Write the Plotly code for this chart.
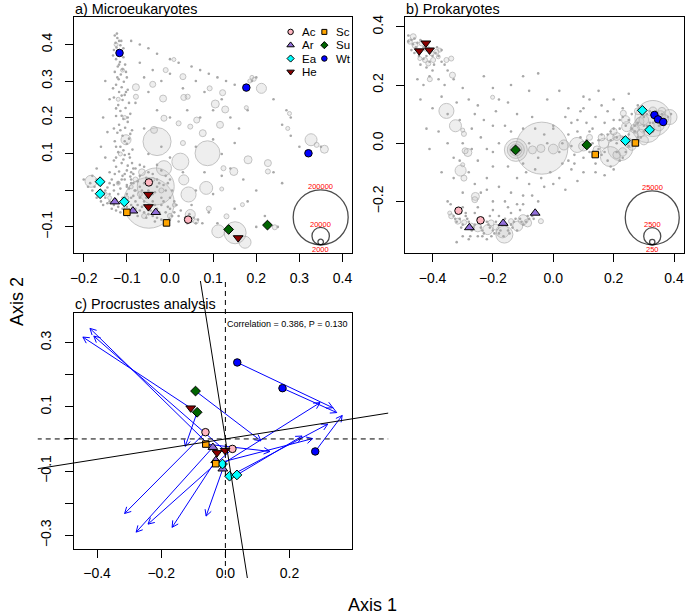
import math
import plotly.graph_objects as go

W, H = 685, 616
FONT = "Liberation Sans, Arial, Helvetica, sans-serif"

# ---------------- data ----------------
group_names = ["Ac", "Ar", "Ea", "He", "Sc", "Su", "Wt"]
group_fill = ["#FFB6C1", "#9370DB", "#00FFFF", "#8B0000", "#FFA500", "#006400", "#0000FF"]
group_symbol = ["circle", "triangle-up", "diamond", "triangle-down", "square", "diamond", "circle"]

sample_group = ["Ac", "Ac", "Ar", "Ar", "Ar", "Ea", "Ea", "Ea", "He", "He", "He",
                "Sc", "Sc", "Su", "Su", "Wt", "Wt", "Wt"]

# a) microeukaryote sample scores
euk_x = [-0.049, 0.042, -0.128, -0.086, -0.033, -0.162, -0.162, -0.106, -0.050, -0.050, 0.158,
         -0.100, -0.008, 0.136, 0.226, -0.117, 0.177, 0.321]
euk_y = [0.022, -0.080, -0.031, -0.056, -0.060, 0.024, -0.009, -0.031, -0.011, -0.045, -0.130,
         -0.060, -0.089, -0.107, -0.095, 0.377, 0.282, 0.102]

# b) prokaryote sample scores (also the Procrustes target)
pro_x = [-0.314, -0.241, -0.278, -0.166, -0.060, 0.295, 0.319, 0.239, -0.444, -0.422, -0.410,
         0.139, 0.272, -0.125, 0.111, 0.335, 0.347, 0.364]
pro_y = [-0.232, -0.265, -0.290, -0.275, -0.240, 0.113, 0.046, 0.009, 0.317, 0.344, 0.320,
         -0.039, 0.001, -0.023, -0.006, 0.097, 0.082, 0.073]

# c) rotated microeukaryote scores
rot_x = [-0.062, 0.022, -0.039, -0.030, -0.008, -0.009, 0.013, 0.036, -0.108, -0.026, -0.001,
         -0.061, -0.030, -0.088, -0.093, 0.037, 0.178, 0.280]
rot_y = [0.021, -0.031, -0.026, -0.067, -0.093, -0.078, -0.116, -0.112, 0.096, -0.043, -0.036,
         -0.016, -0.077, 0.083, 0.149, 0.238, 0.158, -0.039]

procrustes_r = 0.386
procrustes_p = 0.130
rotation_deg = 9.0

euk_key_counts = [200000, 20000, 2000]
pro_key_counts = [25000, 2500, 250]

# OTU abundance bubbles (x, y, reads)
euk_bubbles = [
    (-0.049, -0.034, 170000), (-0.033, 0.011, 90000), (-0.030, 0.134, 52000), (0.087, 0.102, 41000),
    (0.024, 0.079, 19000), (-0.014, 0.061, 15000), (0.043, -0.011, 15000), (0.032, 0.029, 6600),
    (0.084, 0.007, 11000), (-0.183, 0.025, 9500), (0.047, -0.066, 6600), (0.151, -0.116, 32000),
    (0.112, -0.112, 11000), (0.174, -0.142, 9500), (0.131, -0.071, 1650), (0.243, -0.101, 1650),
    (0.327, 0.139, 9500), (0.358, 0.113, 4200), (0.340, 0.125, 1650), (0.181, 0.084, 4200),
    (0.227, 0.075, 3200), (0.227, 0.052, 1650), (0.148, 0.052, 4200), (0.124, 0.061, 1650),
    (0.212, 0.280, 6600), (0.190, 0.310, 1060), (0.195, 0.305, 1060), (0.185, 0.300, 1060),
    (0.122, 0.268, 2400), (0.128, 0.222, 3200), (0.105, 0.237, 4200), (0.177, 0.227, 1060),
    (0.116, 0.180, 3200), (0.277, 0.211, 1060), (0.273, 0.170, 1060), (-0.102, 0.139, 6600),
    (-0.079, 0.283, 3200), (-0.040, 0.291, 2400), (-0.016, 0.252, 3200), (0.032, 0.255, 2400),
    (0.030, 0.312, 2400), (-0.010, 0.330, 1650), (0.009, 0.359, 1060), (-0.079, 0.257, 1650),
    (0.041, 0.257, 1650), (0.092, 0.280, 1650), (-0.014, 0.198, 2400), (0.020, 0.184, 1650),
    (0.047, 0.175, 1650), (0.062, 0.193, 2400), (-0.037, 0.166, 3200), (0.076, 0.157, 3200),
    (0.030, 0.130, 1650), (-0.065, 0.050, 3000), (0.120, 0.004, 1060), (0.168, -0.039, 1060),
    (0.090, -0.050, 1650), (-0.120, 0.020, 1060), (-0.100, -0.020, 1060), (-0.080, 0.030, 1650),
    (-0.140, -0.020, 1060), (-0.060, -0.070, 1650), (0.000, -0.070, 1650), (-0.020, 0.000, 1650),
    (-0.125, 0.400, 1060), (-0.110, 0.330, 1060), (-0.120, 0.250, 1060), (-0.105, 0.200, 1060),
    (-0.115, 0.100, 1060), (-0.090, 0.010, 1060), (-0.070, -0.010, 1650), (-0.040, 0.030, 1060),
    (-0.150, -0.010, 1060), (0.010, -0.040, 1060), (0.060, -0.085, 1650),
]

euk_dots = [
    (-0.128, 0.425), (-0.122, 0.418), (-0.118, 0.410), (-0.126, 0.405), (-0.115, 0.398), (-0.124, 0.392),
    (-0.130, 0.385), (-0.112, 0.380), (-0.120, 0.370), (-0.108, 0.365), (-0.125, 0.360), (-0.116, 0.352),
    (-0.104, 0.345), (-0.121, 0.340), (-0.110, 0.332), (-0.128, 0.325), (-0.114, 0.318), (-0.100, 0.310),
    (-0.119, 0.305), (-0.107, 0.298), (-0.125, 0.290), (-0.112, 0.283), (-0.098, 0.276), (-0.118, 0.270),
    (-0.105, 0.262), (-0.130, 0.255), (-0.110, 0.248), (-0.095, 0.240), (-0.120, 0.234), (-0.103, 0.226),
    (-0.115, 0.218), (-0.092, 0.210), (-0.125, 0.204), (-0.108, 0.196), (-0.098, 0.188), (-0.118, 0.180),
    (-0.104, 0.172), (-0.088, 0.165), (-0.122, 0.158), (-0.110, 0.150), (-0.095, 0.142), (-0.128, 0.135),
    (-0.100, 0.128), (-0.115, 0.120), (-0.087, 0.112), (-0.120, 0.105), (-0.105, 0.097), (-0.093, 0.090),
    (-0.130, 0.082), (-0.112, 0.075), (-0.098, 0.068), (-0.085, 0.060), (-0.118, 0.052), (-0.105, 0.045),
    (-0.092, 0.038), (-0.135, 0.030), (-0.120, 0.022), (-0.100, 0.015), (-0.145, 0.008), (-0.082, 0.000),
    (-0.123, 0.430), (-0.113, 0.410), (-0.108, 0.390), (-0.132, 0.370), (-0.118, 0.345), (-0.102, 0.325),
    (-0.122, 0.310), (-0.132, 0.280), (-0.102, 0.270), (-0.112, 0.260), (-0.125, 0.225), (-0.112, 0.205),
    (-0.098, 0.200), (-0.130, 0.170), (-0.115, 0.165), (-0.092, 0.155), (-0.105, 0.135), (-0.125, 0.120),
    (-0.108, 0.110), (-0.095, 0.100), (-0.125, 0.090), (-0.108, 0.085), (-0.088, 0.075), (-0.125, 0.065),
    (-0.100, 0.055), (-0.128, 0.045), (-0.085, 0.045), (-0.112, 0.030), (-0.090, 0.020),
    (-0.150, 0.300), (-0.140, 0.250), (-0.155, 0.200), (-0.145, 0.160), (-0.160, 0.120), (-0.150, 0.090),
    (-0.170, 0.060), (-0.140, 0.050), (-0.180, 0.040), (-0.160, 0.000),
    (-0.090, 0.410), (-0.070, 0.400), (-0.050, 0.390), (-0.030, 0.375), (0.000, 0.360), (0.020, 0.350),
    (0.050, 0.340), (0.070, 0.330), (0.090, 0.320), (0.110, 0.310), (0.130, 0.300), (0.150, 0.290),
    (0.190, 0.300), (0.200, 0.310), (0.240, 0.250), (0.270, 0.220), (0.280, 0.200), (0.280, 0.150),
    (0.260, 0.180), (-0.070, 0.350), (-0.040, 0.330), (-0.060, 0.310), (-0.020, 0.300), (0.000, 0.320),
    (0.030, 0.280), (0.060, 0.300), (0.080, 0.270), (-0.050, 0.270), (-0.080, 0.240), (-0.030, 0.220),
    (0.000, 0.200), (0.040, 0.220), (0.070, 0.200), (0.100, 0.220), (0.120, 0.250), (0.140, 0.200),
    (0.160, 0.170), (0.180, 0.220), (0.150, 0.130), (0.120, 0.100), (0.100, 0.140), (0.060, 0.120),
    (0.030, 0.050), (0.080, 0.050), (0.120, 0.040), (0.140, 0.060), (0.170, 0.030), (0.200, 0.000),
    (0.180, -0.030), (0.150, -0.050), (0.100, -0.010), (0.060, 0.000), (0.050, -0.040), (0.220, -0.070),
    (0.250, -0.100), (0.200, -0.100), (0.110, -0.090), (0.090, -0.060), (0.300, 0.120), (0.350, 0.120),
    (0.240, 0.050), (0.260, 0.020), (-0.060, 0.170), (-0.020, 0.120), (0.000, 0.090), (-0.070, 0.070),
    (-0.050, 0.100), (-0.030, 0.070),
    (-0.200, 0.030), (-0.190, 0.010), (-0.180, 0.000), (-0.170, -0.020), (-0.160, -0.030), (-0.150, -0.020),
    (-0.140, -0.030), (-0.130, -0.040), (-0.120, -0.045), (-0.110, -0.050), (-0.100, -0.045), (-0.090, -0.040),
    (-0.080, -0.050), (-0.070, -0.055), (-0.060, -0.060), (-0.050, -0.065), (-0.040, -0.070), (-0.030, -0.075),
    (-0.020, -0.080), (-0.010, -0.085), (0.000, -0.080), (0.020, -0.085), (0.040, -0.090), (0.050, -0.085),
    (0.060, -0.090), (-0.140, -0.010), (-0.130, 0.000), (-0.120, -0.010), (-0.110, -0.020), (-0.100, -0.010),
    (-0.090, -0.020), (-0.080, -0.030), (-0.070, -0.020), (-0.060, -0.030), (-0.050, -0.040), (-0.040, -0.030),
    (-0.030, -0.050), (-0.020, -0.040), (-0.010, -0.060), (0.000, -0.050), (0.010, -0.060), (0.020, -0.070),
    (-0.120, 0.020), (-0.100, 0.010), (-0.090, 0.030), (-0.080, 0.000), (-0.070, 0.010), (-0.060, 0.020),
    (-0.050, 0.000), (-0.040, -0.010), (-0.030, 0.010), (-0.020, -0.020), (-0.010, 0.000), (0.000, -0.020),
    (-0.090, 0.050), (-0.070, 0.040), (-0.050, 0.050), (-0.030, 0.030), (-0.010, 0.040), (-0.110, 0.040),
    (-0.155, -0.040), (-0.135, -0.050), (-0.115, -0.060), (-0.095, -0.065), (-0.075, -0.070), (-0.055, -0.075),
    (-0.035, -0.085),
    (-0.165, -0.010), (-0.175, 0.010), (-0.185, 0.020), (-0.150, 0.000), (-0.145, -0.035), (-0.125, -0.025),
    (-0.125, -0.055), (-0.105, -0.035), (-0.095, -0.055), (-0.085, -0.015), (-0.075, -0.040), (-0.065, -0.045),
    (-0.055, -0.020), (-0.045, -0.055), (-0.035, -0.040), (-0.025, -0.060), (-0.015, -0.030), (-0.005, -0.045),
    (0.005, -0.070), (0.015, -0.040), (0.025, -0.055), (0.035, -0.075), (0.045, -0.065), (0.055, -0.075),
    (0.065, -0.080), (0.075, -0.090), (-0.095, 0.005), (-0.085, 0.020), (-0.075, 0.025), (-0.065, 0.000),
    (-0.055, 0.035), (-0.045, 0.015), (-0.035, -0.005), (-0.025, 0.020), (-0.015, 0.015), (-0.005, 0.020),
    (0.005, 0.000), (0.010, -0.030), (-0.105, 0.030), (-0.115, 0.005), (-0.130, 0.015), (-0.080, 0.060),
    (-0.060, 0.065), (-0.040, 0.045), (-0.020, 0.055), (0.000, 0.030), (-0.140, 0.020), (-0.160, 0.015),
    (-0.170, 0.030),
]

pro_bubbles = [
    (-0.038, -0.017, 23200), (-0.124, -0.023, 4500), (-0.124, -0.023, 2480), (-0.124, -0.023, 1235),
    (-0.124, -0.023, 549), (-0.069, -0.023, 549), (-0.041, -0.018, 549), (0.000, -0.020, 800),
    (0.035, -0.006, 857), (0.079, -0.006, 1930), (0.100, -0.010, 800),
    (-0.354, 0.111, 1930), (-0.324, 0.060, 1235), (-0.296, 0.032, 214), (-0.300, 0.045, 137),
    (-0.283, -0.032, 549), (-0.292, -0.026, 309), (-0.307, -0.094, 1040), (-0.296, -0.120, 309),
    (-0.300, -0.074, 137), (-0.258, -0.183, 549), (-0.260, -0.194, 309), (-0.201, 0.158, 137),
    (-0.464, 0.366, 309), (-0.475, 0.349, 214), (-0.458, 0.337, 309), (-0.436, 0.343, 214),
    (-0.420, 0.326, 309), (-0.403, 0.309, 214), (-0.387, 0.314, 214), (-0.376, 0.320, 137),
    (-0.354, 0.286, 214), (-0.338, 0.291, 214), (-0.414, 0.274, 214), (-0.425, 0.286, 214),
    (-0.442, 0.291, 137), (-0.398, 0.286, 214), (-0.381, 0.297, 137), (-0.334, 0.234, 309),
    (-0.409, 0.220, 214),
    (-0.338, -0.251, 214), (-0.316, -0.268, 309), (-0.272, -0.285, 309), (-0.217, -0.297, 857),
    (-0.168, -0.303, 1450), (-0.118, -0.285, 857), (-0.085, -0.274, 549), (-0.041, -0.268, 214),
    (-0.250, -0.291, 549), (-0.206, -0.274, 309), (-0.140, -0.268, 214), (-0.162, -0.314, 2480),
    (-0.343, -0.240, 137), (-0.295, -0.272, 214), (-0.190, -0.288, 309), (-0.100, -0.263, 857),
    (0.330, 0.085, 11100), (0.310, 0.050, 6700), (0.385, 0.090, 1930), (0.222, -0.017, 5360),
    (0.189, -0.046, 3430), (0.243, 0.057, 857), (0.265, 0.028, 857), (0.210, 0.023, 549),
    (0.167, 0.000, 857), (0.145, -0.023, 549), (0.232, 0.103, 309), (0.287, 0.075, 549),
    (0.300, 0.010, 700), (0.350, 0.060, 900), (0.260, -0.010, 600), (0.200, 0.040, 400),
    (0.120, 0.020, 300), (0.280, 0.110, 400), (0.360, 0.110, 500),
    (0.240, 0.080, 600), (0.270, 0.050, 700), (0.290, 0.035, 500), (0.330, 0.110, 600),
    (0.210, -0.040, 500), (0.160, 0.020, 400), (0.190, 0.020, 500), (0.300, 0.080, 800),
    (0.250, 0.000, 700), (0.230, -0.030, 600), (0.355, 0.095, 800), (0.370, 0.085, 500),
]

pro_dots = [
    (-0.480, 0.370), (-0.470, 0.355), (-0.460, 0.360), (-0.465, 0.340), (-0.455, 0.330), (-0.450, 0.345),
    (-0.440, 0.355), (-0.430, 0.330), (-0.470, 0.320), (-0.445, 0.300), (-0.430, 0.290), (-0.420, 0.300),
    (-0.410, 0.280), (-0.400, 0.300), (-0.390, 0.310), (-0.380, 0.300), (-0.395, 0.270), (-0.370, 0.280),
    (-0.360, 0.270), (-0.350, 0.250), (-0.420, 0.260), (-0.440, 0.270), (-0.400, 0.250), (-0.460, 0.310),
    (-0.480, 0.350), (-0.385, 0.330), (-0.370, 0.320),
    (-0.450, 0.220), (-0.430, 0.200), (-0.410, 0.230), (-0.380, 0.220), (-0.360, 0.200), (-0.330, 0.220),
    (-0.300, 0.190), (-0.440, 0.150), (-0.400, 0.120), (-0.370, 0.160), (-0.320, 0.140), (-0.280, 0.150),
    (-0.250, 0.130), (-0.420, 0.050), (-0.380, 0.040), (-0.350, 0.000), (-0.330, -0.050), (-0.300, 0.000),
    (-0.270, 0.050), (-0.240, 0.020), (-0.220, -0.020), (-0.200, 0.060), (-0.180, 0.000), (-0.410, -0.020),
    (-0.370, -0.100), (-0.330, -0.120), (-0.280, -0.100), (-0.250, -0.060), (-0.220, -0.120), (-0.200, -0.080),
    (-0.180, -0.150), (-0.160, -0.200), (-0.200, -0.200), (-0.240, -0.170), (-0.300, -0.170), (-0.350, -0.200),
    (-0.140, -0.170), (-0.120, -0.120), (-0.100, -0.180), (-0.080, -0.140), (-0.050, -0.200), (-0.030, -0.150),
    (-0.010, -0.100), (0.020, -0.120), (0.040, -0.160), (0.060, -0.090), (0.080, -0.130), (-0.150, -0.080),
    (-0.100, -0.070), (-0.060, -0.090),
    (-0.350, 0.100), (-0.310, 0.080), (-0.260, 0.100), (-0.230, 0.080), (-0.190, 0.110), (-0.140, 0.040),
    (-0.100, 0.050), (-0.090, -0.100), (-0.040, -0.120), (0.000, -0.140), (0.030, -0.070), (-0.200, -0.030),
    (-0.270, -0.020), (-0.310, -0.060), (-0.260, -0.140), (-0.220, -0.160), (-0.120, -0.210), (-0.070, -0.180),
    (0.100, 0.120), (0.120, 0.150),
    (-0.230, 0.230), (-0.200, 0.190), (-0.150, 0.140), (-0.100, 0.230), (-0.080, 0.180), (-0.050, 0.240),
    (-0.120, 0.100), (-0.070, 0.090), (-0.020, 0.150), (0.020, 0.180), (0.050, 0.120), (0.100, 0.160),
    (0.150, 0.180), (0.200, 0.150), (0.250, 0.170), (0.080, 0.080), (-0.180, 0.150), (-0.160, 0.060),
    (0.000, 0.060), (-0.140, 0.200), (-0.060, 0.050),
    (0.000, 0.050), (0.030, 0.000), (0.050, 0.030), (0.070, -0.040), (0.090, 0.020), (0.100, -0.050),
    (0.120, 0.040), (0.130, 0.000), (0.150, -0.020), (0.160, 0.030), (0.170, 0.070), (0.180, -0.060),
    (0.190, 0.010), (0.200, 0.050), (0.210, -0.030), (0.220, 0.080), (0.230, 0.020), (0.240, 0.060),
    (0.250, -0.010), (0.260, 0.100), (0.270, 0.040), (0.280, 0.070), (0.290, 0.020), (0.300, 0.090),
    (0.310, 0.060), (0.320, 0.110), (0.330, 0.040), (0.340, 0.080), (0.350, 0.060), (0.360, 0.100),
    (0.370, 0.080), (0.380, 0.090), (0.140, 0.090), (0.110, 0.070), (0.060, 0.070), (0.180, 0.110),
    (0.230, 0.120), (0.280, 0.130), (0.100, -0.100), (0.140, -0.070), (0.050, -0.060), (0.020, -0.030),
    (-0.020, 0.000), (-0.050, -0.050), (-0.080, 0.000), (-0.030, 0.030), (0.120, -0.030), (0.200, -0.090),
    (0.170, -0.110), (0.250, 0.030), (0.270, 0.010), (0.300, 0.040), (0.320, 0.070), (0.210, 0.020),
    (0.180, 0.030), (0.160, -0.040), (0.230, -0.050), (0.290, 0.100),
    (0.150, 0.010), (0.170, -0.030), (0.190, 0.040), (0.210, 0.000), (0.220, 0.050), (0.240, 0.020),
    (0.250, 0.080), (0.270, 0.060), (0.280, 0.020), (0.300, 0.060), (0.310, 0.100), (0.330, 0.070),
    (0.340, 0.110), (0.360, 0.070), (0.390, 0.100), (0.260, 0.050), (0.230, 0.090), (0.200, 0.080),
    (0.130, 0.050), (0.110, 0.010), (0.080, 0.040), (0.060, -0.010), (0.040, 0.090), (0.090, 0.110),
    (0.160, 0.130), (0.220, -0.060), (0.240, -0.030), (0.190, -0.080), (0.140, -0.100), (0.070, -0.070),
    (-0.330, -0.250), (-0.320, -0.270), (-0.310, -0.260), (-0.300, -0.280), (-0.290, -0.250), (-0.280, -0.270),
    (-0.270, -0.300), (-0.260, -0.280), (-0.250, -0.260), (-0.240, -0.290), (-0.230, -0.310), (-0.220, -0.270),
    (-0.210, -0.290), (-0.200, -0.300), (-0.190, -0.270), (-0.180, -0.310), (-0.170, -0.280), (-0.160, -0.260),
    (-0.150, -0.300), (-0.140, -0.280), (-0.130, -0.270), (-0.120, -0.300), (-0.110, -0.260), (-0.100, -0.280),
    (-0.090, -0.270), (-0.080, -0.260), (-0.070, -0.250), (-0.300, -0.320), (-0.280, -0.330), (-0.250, -0.320),
    (-0.220, -0.330), (-0.290, -0.240), (-0.260, -0.240), (-0.210, -0.250), (-0.180, -0.250), (-0.140, -0.240),
    (-0.110, -0.230), (-0.300, -0.220), (-0.250, -0.220), (-0.200, -0.230), (-0.150, -0.220), (-0.100, -0.210),
    (-0.340, -0.210), (-0.320, -0.340),
    (-0.325, -0.260), (-0.305, -0.290), (-0.285, -0.260), (-0.265, -0.290), (-0.245, -0.270), (-0.235, -0.300),
    (-0.215, -0.280), (-0.195, -0.310), (-0.175, -0.300), (-0.155, -0.280), (-0.135, -0.290), (-0.125, -0.260),
    (-0.105, -0.270), (-0.085, -0.250), (-0.065, -0.260), (-0.275, -0.320), (-0.235, -0.320), (-0.205, -0.320),
    (-0.165, -0.320), (-0.145, -0.310),
]

# ---------------- geometry ----------------
A_BOX = (70, 350, 15, 252)
A_XR, A_YR = [-0.2214, 0.423], [-0.172, 0.4757]
B_BOX = (403.3, 684, 15, 252)
B_XR, B_YR = [-0.490, 0.433], [-0.378, 0.434]
C_BOX = (69.3, 350, 312.3, 548.3)
C_XR, C_YR = [-0.4724, 0.396], [-0.341, 0.391]
LINES_BOX = (33, 386, 280, 578)

K_A = 55 / math.sqrt(200000)   # px diameter per sqrt(read)
K_B = 54 / math.sqrt(25000)


def dom_x(box):
    return [box[0] / W, box[1] / W]


def dom_y(box):
    return [1 - box[3] / H, 1 - box[2] / H]


def fmt(v):
    return f"{v:.1f}".replace("-", "\u2212")


SYM_SIZE = {"circle": 7.5, "triangle-up": 8.5, "triangle-down": 8.5, "diamond": 7.5, "square": 6.5}
LEG_SIZE = {"circle": 5.5, "triangle-up": 6.5, "triangle-down": 6.5, "diamond": 5.5, "square": 5}

fig = go.Figure()


def add_cloud(bubbles, dots, k, xa, ya):
    fig.add_trace(go.Scatter(
        x=[b[0] for b in bubbles], y=[b[1] for b in bubbles], mode="markers",
        marker=dict(size=[math.sqrt(b[2]) for b in bubbles], sizemode="diameter", sizeref=1 / k,
                    color="rgba(200,200,200,0.42)", line=dict(color="rgb(170,170,170)", width=1)),
        xaxis=xa, yaxis=ya, hoverinfo="skip"))
    fig.add_trace(go.Scatter(
        x=[d[0] for d in dots], y=[d[1] for d in dots], mode="markers",
        marker=dict(size=2.6, color="rgb(168,168,168)", line=dict(width=0)),
        xaxis=xa, yaxis=ya, hoverinfo="skip"))


def add_samples(xs, ys, xa, ya):
    for g, fill, sym in zip(group_names, group_fill, group_symbol):
        idx = [i for i, s in enumerate(sample_group) if s == g]
        fig.add_trace(go.Scatter(
            x=[xs[i] for i in idx], y=[ys[i] for i in idx], mode="markers", name=g,
            marker=dict(symbol=sym, size=SYM_SIZE[sym], color=fill, line=dict(color="black", width=1)),
            xaxis=xa, yaxis=ya))


# panel a
add_cloud(euk_bubbles, euk_dots, K_A, "x", "y")
add_samples(euk_x, euk_y, "x", "y")
# panel b
add_cloud(pro_bubbles, pro_dots, K_B, "x2", "y2")
add_samples(pro_x, pro_y, "x2", "y2")

# reference lines of panel c (drawn on an overlay with same scale, extended outside the box)
sx = (C_BOX[1] - C_BOX[0]) / (C_XR[1] - C_XR[0])
sy = (C_BOX[3] - C_BOX[2]) / (C_YR[1] - C_YR[0])
x4r = [C_XR[0] + (LINES_BOX[0] - C_BOX[0]) / sx, C_XR[0] + (LINES_BOX[1] - C_BOX[0]) / sx]
y4r = [C_YR[1] - (LINES_BOX[3] - C_BOX[2]) / sy, C_YR[1] - (LINES_BOX[2] - C_BOX[2]) / sy]
Lext = 3.0
fig.add_trace(go.Scatter(x=[-Lext, Lext, None, 0, 0], y=[0, 0, None, -Lext, Lext], mode="lines",
                         line=dict(color="black", width=1, dash="5px,4px"), xaxis="x4", yaxis="y4",
                         hoverinfo="skip"))
th = math.radians(rotation_deg)
fig.add_trace(go.Scatter(
    x=[-Lext * math.cos(th), Lext * math.cos(th), None, Lext * math.sin(th), -Lext * math.sin(th)],
    y=[-Lext * math.sin(th), Lext * math.sin(th), None, -Lext * math.cos(th), Lext * math.cos(th)],
    mode="lines", line=dict(color="black", width=1), xaxis="x4", yaxis="y4", hoverinfo="skip"))

# panel c arrows (one trace per arrow, open heads computed in screen space)
head_len, head_ang = 7.0, math.radians(28)
for x0, y0, x1, y1 in zip(rot_x, rot_y, pro_x, pro_y):
    ang = math.atan2((y1 - y0) * sy, (x1 - x0) * sx)
    w = []
    for s in (1, -1):
        a = ang + math.pi + s * head_ang
        w.append((x1 + head_len * math.cos(a) / sx, y1 + head_len * math.sin(a) / sy))
    fig.add_trace(go.Scatter(
        x=[x0, x1, None, w[0][0], x1, w[1][0]], y=[y0, y1, None, w[0][1], y1, w[1][1]],
        mode="lines", line=dict(color="rgb(0,0,255)", width=1), xaxis="x3", yaxis="y3",
        hoverinfo="skip"))
add_samples(rot_x, rot_y, "x3", "y3")

# bubble size keys (pixel overlay)
annotations = []
for counts, k, cx in ((euk_key_counts, K_A, 318), (pro_key_counts, K_B, 652)):
    bottom = 243.5
    ds = [k * math.sqrt(c) for c in counts]
    fig.add_trace(go.Scatter(
        x=[cx] * len(counts), y=[bottom - d / 2 for d in ds], mode="markers",
        marker=dict(size=[math.sqrt(c) for c in counts], sizemode="diameter", sizeref=1 / k,
                    color="rgba(0,0,0,0)", line=dict(color="black", width=1.3)),
        xaxis="x5", yaxis="y5", hoverinfo="skip"))
    for i, (c, d) in enumerate(zip(counts, ds)):
        ly = bottom - d - 3 if i < len(counts) - 1 else bottom + 5
        annotations.append(dict(x=cx, y=ly, xref="x5", yref="y5", text=str(c), showarrow=False,
                                font=dict(family=FONT, size=7.5, color="red"),
                                xanchor="center", yanchor="middle"))

# legend of panel a (pixel overlay)
leg_cols = [287.7, 321.7]
leg_rows = [30, 43.3, 56.7, 70]
for i, (g, fill, sym) in enumerate(zip(group_names, group_fill, group_symbol)):
    col, row = (0, i) if i < 4 else (1, i - 4)
    fig.add_trace(go.Scatter(
        x=[leg_cols[col]], y=[leg_rows[row]], mode="markers",
        marker=dict(symbol=sym, size=LEG_SIZE[sym], color=fill, line=dict(color="black", width=1)),
        xaxis="x5", yaxis="y5", hoverinfo="skip"))
    annotations.append(dict(x=leg_cols[col] + 9.5, y=leg_rows[row], xref="x5", yref="y5", text=g,
                            showarrow=False, font=dict(family=FONT, size=11.5, color="black"),
                            xanchor="left", yanchor="middle"))


# titles and labels
def ann(x, y, text, size, xanchor="left", angle=0):
    annotations.append(dict(x=x, y=y, xref="x5", yref="y5", text=text, showarrow=False,
                            font=dict(family=FONT, size=size, color="black"),
                            xanchor=xanchor, yanchor="middle", textangle=angle))


ann(68.5, 7.5, "a) Microeukaryotes", 14.4)
ann(402, 7.5, "b) Prokaryotes", 14.4)
ann(68, 302.5, "c) Procrustes analysis", 14.4)
ann(347, 323.5, f"Correlation = {procrustes_r:.3f}, P = {procrustes_p:.3f}", 9, xanchor="right")
ann(12, 300, "Axis 2", 18, xanchor="center", angle=-90)
ann(370, 605, "Axis 1", 18, xanchor="center")


def axis(box_dom, rng, anchor, tickvals, ticktext, is_y=False):
    d = dict(domain=box_dom, range=rng, anchor=anchor, showline=True, mirror=True, linecolor="black",
             linewidth=1, ticks="outside", ticklen=8, tickwidth=1, tickcolor="black", showgrid=False,
             zeroline=False, tickmode="array", tickvals=tickvals, ticktext=ticktext,
             tickfont=dict(family=FONT, size=14, color="black"), fixedrange=True)
    if is_y:
        d["tickangle"] = -90
        d["ticklabelstandoff"] = 8
    else:
        d["ticklabelstandoff"] = 4
    return d


a_xt = [-0.2, -0.1, 0.0, 0.1, 0.2, 0.3, 0.4]
a_yt = [-0.1, 0.0, 0.1, 0.2, 0.3, 0.4]
b_xt = [-0.4, -0.2, 0.0, 0.2, 0.4]
b_yt = [-0.2, 0.0, 0.2, 0.4]
c_xt = [-0.4, -0.2, 0.0, 0.2]
c_yt = [-0.3, -0.2, -0.1, 0.0, 0.1, 0.2, 0.3]

hidden = dict(visible=False, showgrid=False, zeroline=False, fixedrange=True)

fig.update_layout(
    width=W, height=H, margin=dict(l=0, r=0, t=0, b=0), showlegend=False,
    paper_bgcolor="white", plot_bgcolor="rgba(0,0,0,0)",
    xaxis=axis(dom_x(A_BOX), A_XR, "y", a_xt, [fmt(v) for v in a_xt]),
    yaxis=axis(dom_y(A_BOX), A_YR, "x", a_yt, ["" if v == 0 else fmt(v) for v in a_yt], True),
    xaxis2=axis(dom_x(B_BOX), B_XR, "y2", b_xt, [fmt(v) for v in b_xt]),
    yaxis2=axis(dom_y(B_BOX), B_YR, "x2", b_yt, [fmt(v) for v in b_yt], True),
    xaxis3=axis(dom_x(C_BOX), C_XR, "y3", c_xt, [fmt(v) for v in c_xt]),
    yaxis3=axis(dom_y(C_BOX), C_YR, "x3", c_yt,
                [fmt(v) if round(abs(v) * 10) % 2 == 1 else "" for v in c_yt], True),
    xaxis4=dict(domain=dom_x(LINES_BOX), range=x4r, anchor="y4", **hidden),
    yaxis4=dict(domain=dom_y(LINES_BOX), range=y4r, anchor="x4", **hidden),
    xaxis5=dict(domain=[0, 1], range=[0, W], anchor="y5", **hidden),
    yaxis5=dict(domain=[0, 1], range=[H, 0], anchor="x5", **hidden),
    annotations=annotations,
)

fig.write_html("out.html", config={"displayModeBar": False},
               post_script="document.body.style.margin='0';document.body.style.overflow='hidden';")
